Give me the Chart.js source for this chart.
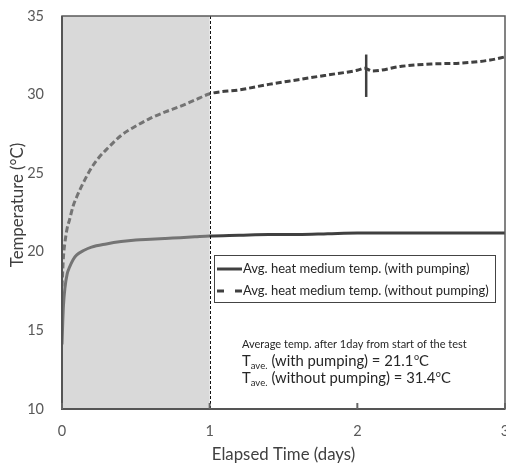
<!DOCTYPE html>
<html>
<head>
<meta charset="utf-8">
<script src="https://cdn.jsdelivr.net/npm/chart.js@4/dist/chart.umd.min.js"></script>
<style>
html,body{margin:0;padding:0;background:#fff;}
#wrap{width:506px;height:464px;position:relative;}
</style>
</head>
<body>
<div id="wrap"><canvas id="c" width="506" height="464"></canvas></div>
<script>
// ---- data ----
const xTickValues = [0, 1, 2, 3];
const yTickValues = [10, 15, 20, 25, 30, 35];

const daysWith = [0, 0.005, 0.01, 0.02, 0.035, 0.05, 0.075, 0.1, 0.15, 0.2, 0.3, 0.4, 0.5, 0.6, 0.7, 0.8, 0.9, 1.0, 1.2, 1.4, 1.6, 1.8, 2.0, 2.2, 2.4, 2.6, 2.8, 3.0];
const tempWith = [14.1, 15.5, 16.6, 17.7, 18.6, 19.0, 19.5, 19.8, 20.1, 20.3, 20.5, 20.65, 20.75, 20.8, 20.85, 20.9, 20.95, 21.0, 21.05, 21.1, 21.1, 21.15, 21.2, 21.2, 21.2, 21.2, 21.2, 21.2];

const daysWithout = [0, 0.01, 0.02, 0.035, 0.05, 0.075, 0.1, 0.15, 0.2, 0.25, 0.3, 0.4, 0.5, 0.6, 0.7, 0.8, 0.9, 1.0, 1.2, 1.4, 1.6, 1.8, 2.0, 2.05, 2.1, 2.3, 2.5, 2.7, 2.9, 3.0];
const tempWithout = [17.8, 19.7, 20.6, 21.5, 22.0, 22.9, 23.5, 24.5, 25.35, 26.0, 26.5, 27.4, 28.0, 28.5, 28.9, 29.25, 29.65, 30.05, 30.3, 30.65, 30.95, 31.25, 31.55, 31.68, 31.5, 31.8, 31.95, 32.0, 32.2, 32.4];

const breakDays = [2.06, 2.06];
const breakTemps = [29.85, 32.55];

const shadeDays = [0, 1];
const seriesLabels = ["Avg. heat medium temp. (with pumping)", "Avg. heat medium temp. (without pumping)"];
const noteTitle = "Average temp. after 1day from start of the test";
const noteValues = [["(with pumping) = 21.1", "C"], ["(without pumping) = 31.4", "C"]];

const xTitle = "Elapsed Time (days)";
const yTitle = "Temperature (°C)";

const FONT = "Lato, 'Open Sans', sans-serif";
const LINE = "#404040";

function pts(xs, ys){ return xs.map((x,i)=>({x:x, y:ys[i]})); }

const decor = {
  id: 'decor',
  beforeDraw(chart){
    const ctx = chart.ctx;
    ctx.save(); ctx.fillStyle = '#fff'; ctx.fillRect(0,0,chart.width,chart.height); ctx.restore();
  },
  afterDatasetsDraw(chart){
    const ctx = chart.ctx, a = chart.chartArea, sx = chart.scales.x;
    ctx.save();
    // shaded first day
    const x0 = sx.getPixelForValue(shadeDays[0]), x1 = sx.getPixelForValue(shadeDays[1]);
    ctx.fillStyle = 'rgba(175,175,175,0.476)';
    ctx.fillRect(x0, a.top, x1 - x0, a.bottom - a.top);
    // dashed vertical at 1 day
    ctx.strokeStyle = '#111'; ctx.lineWidth = 1; ctx.setLineDash([3,2]);
    ctx.beginPath(); ctx.moveTo(Math.round(x1)+0.5, a.top); ctx.lineTo(Math.round(x1)+0.5, a.bottom); ctx.stroke();
    ctx.setLineDash([]);
    // frame
    ctx.strokeStyle = '#5a5a5a'; ctx.lineWidth = 1.5;
    ctx.strokeRect(a.left, a.top, a.right - a.left, a.bottom - a.top);
    ctx.strokeStyle = '#555'; ctx.lineWidth = 2;
    ctx.beginPath(); ctx.moveTo(a.left, a.top); ctx.lineTo(a.left, a.bottom); ctx.lineTo(a.right, a.bottom); ctx.stroke();
    // inner ticks on x axis
    ctx.lineWidth = 2; ctx.strokeStyle = '#666';
    xTickValues.forEach(v => {
      const px = sx.getPixelForValue(v);
      ctx.beginPath(); ctx.moveTo(px, a.bottom); ctx.lineTo(px, a.bottom - 6); ctx.stroke();
    });
    // legend box
    const lx = 214, ly = 255, lw = 281, lh = 47;
    ctx.fillStyle = '#fff'; ctx.fillRect(lx, ly, lw, lh);
    ctx.strokeStyle = '#444'; ctx.lineWidth = 1; ctx.strokeRect(lx + 0.5, ly + 0.5, lw, lh);
    ctx.strokeStyle = LINE; ctx.lineWidth = 3;
    ctx.beginPath(); ctx.moveTo(217, 269); ctx.lineTo(242, 269); ctx.stroke();
    ctx.setLineDash([7,11]);
    ctx.beginPath(); ctx.moveTo(217, 291); ctx.lineTo(243, 291); ctx.stroke();
    ctx.setLineDash([]);
    ctx.fillStyle = '#262626'; ctx.font = '13px ' + FONT; ctx.textBaseline = 'middle'; ctx.textAlign = 'left';
    ctx.fillText(seriesLabels[0], 243, 269);
    ctx.fillText(seriesLabels[1], 243, 291);
    // note
    ctx.font = '11px ' + FONT; ctx.fillStyle = '#262626';
    ctx.fillText(noteTitle, 242, 344);
    ctx.textBaseline = 'alphabetic';
    [366, 383].forEach((base, i) => {
      let x = 242;
      ctx.font = '14.8px ' + FONT; ctx.fillText('T', x, base); x += ctx.measureText('T').width;
      ctx.font = '9.5px ' + FONT; ctx.fillText('ave.', x, base + 3); x += ctx.measureText('ave.').width + 4;
      ctx.font = '14.8px ' + FONT; ctx.fillText(noteValues[i][0], x, base); x += ctx.measureText(noteValues[i][0]).width + 0.5;
      ctx.font = '9px ' + FONT; ctx.fillText('o', x, base - 6.5); x += ctx.measureText('o').width;
      ctx.font = '14.8px ' + FONT; ctx.fillText(noteValues[i][1], x, base);
    });
    // axis titles
    ctx.fillStyle = '#404040'; ctx.font = '16.8px ' + FONT; ctx.textAlign = 'center'; ctx.textBaseline = 'middle';
    ctx.fillText(xTitle, (a.left + a.right) / 2, 455);
    ctx.translate(18, 205); ctx.rotate(-Math.PI / 2);
    ctx.fillText(yTitle, 0, 0);
    ctx.restore();
  }
};

new Chart(document.getElementById('c'), {
  type: 'line',
  data: {
    datasets: [
      { label: seriesLabels[1], data: pts(daysWithout, tempWithout), borderColor: LINE, borderWidth: 3, borderDash: [6,3], pointRadius: 0, cubicInterpolationMode: 'monotone', fill: false },
      { label: seriesLabels[0], data: pts(daysWith, tempWith), borderColor: LINE, borderWidth: 3, pointRadius: 0, cubicInterpolationMode: 'monotone', fill: false },
      { label: 'break', data: pts(breakDays, breakTemps), borderColor: LINE, borderWidth: 2.5, pointRadius: 0, fill: false }
    ]
  },
  options: {
    responsive: false, animation: false, devicePixelRatio: 1,
    layout: { padding: { top: 16, right: 1, left: 0, bottom: 0 } },
    plugins: { legend: { display: false }, tooltip: { enabled: false } },
    scales: {
      x: {
        type: 'linear', min: 0, max: 3,
        afterBuildTicks: s => { s.ticks = xTickValues.map(v => ({ value: v })); },
        afterFit: s => { s.height = 55; s.paddingLeft = 0; s.paddingRight = 0; },
        grid: { display: false, drawTicks: false }, border: { display: false },
        ticks: { color: '#595959', font: { family: FONT, size: 14.5 }, padding: 14, maxRotation: 0, autoSkip: false, callback: v => String(v) }
      },
      y: {
        min: 10, max: 35,
        afterBuildTicks: s => { s.ticks = yTickValues.map(v => ({ value: v })); },
        afterFit: s => { s.width = 62; s.paddingTop = 0; s.paddingBottom = 0; },
        grid: { display: false, drawTicks: false }, border: { display: false },
        ticks: { color: '#595959', font: { family: FONT, size: 14.5 }, padding: 18, callback: v => String(v) }
      }
    }
  },
  plugins: [decor]
});
</script>
</body>
</html>
